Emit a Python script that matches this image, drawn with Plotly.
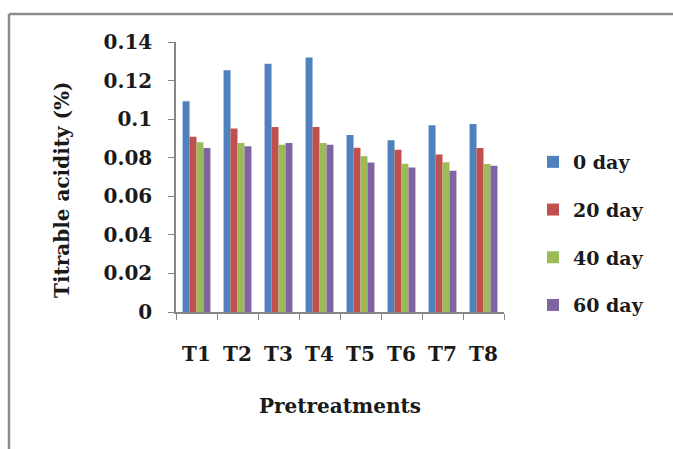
import plotly.graph_objects as go

categories = ["T1", "T2", "T3", "T4", "T5", "T6", "T7", "T8"]
day0 = [0.1093, 0.1253, 0.1287, 0.1320, 0.0918, 0.0890, 0.0968, 0.0975]
day20 = [0.0909, 0.0952, 0.0959, 0.0959, 0.0852, 0.0841, 0.0817, 0.0850]
day40 = [0.0880, 0.0876, 0.0867, 0.0876, 0.0808, 0.0769, 0.0777, 0.0767]
day60 = [0.0850, 0.0859, 0.0876, 0.0867, 0.0775, 0.0749, 0.0732, 0.0758]
series_names = ["0 day", "20 day", "40 day", "60 day"]
colors = ["#4F81BD", "#C0504D", "#9BBB59", "#8064A2"]

W, H = 673, 449
L, R, T, B = 176, 504, 42, 312
FONT = "DejaVu Serif"
TXT = "#1a1a1a"

fig = go.Figure()
for i, (name, vals) in enumerate(zip(series_names, [day0, day20, day40, day60])):
    fig.add_trace(go.Bar(x=categories, y=vals, name=name, marker_color=colors[i],
                         marker_line_width=0, legendgroup=f"g{i}"))

def px(x):
    return (x - L) / (R - L)

def py(y):
    return (B - y) / (B - T)

fig.update_layout(
    width=W, height=H,
    margin=dict(l=L, r=W - R, t=T, b=H - B, pad=0),
    paper_bgcolor="white", plot_bgcolor="white",
    barmode="group", bargap=0.32, bargroupgap=0,
    font=dict(family=FONT, color=TXT),
    showlegend=True,
    legend=dict(x=px(533), y=py(143), xanchor="left", yanchor="top",
                font=dict(size=19, family=FONT, color=TXT, weight="bold"),
                tracegroupgap=20, traceorder="grouped",
                bgcolor="rgba(0,0,0,0)", itemwidth=30),
    xaxis=dict(showline=True, linecolor="#868686", linewidth=1.5,
               ticks="outside", ticklen=6, tickcolor="#868686",
               tickson="boundaries", ticklabelstandoff=23,
               tickfont=dict(size=20, family=FONT, color=TXT, weight="bold"),
               title=dict(text="Pretreatments", standoff=34,
                          font=dict(size=20, family=FONT, color=TXT, weight="bold")),
               showgrid=False),
    yaxis=dict(range=[0, 0.14], dtick=0.02, tickformat="~g",
               showline=True, linecolor="#868686", linewidth=1.5,
               ticks="outside", ticklen=6, tickcolor="#868686",
               ticklabelstandoff=12,
               tickfont=dict(size=20, family=FONT, color=TXT, weight="bold"),
               showgrid=False, zeroline=False),
    annotations=[
        dict(text="Titrable acidity (%)", textangle=-90, xref="paper", yref="paper",
             x=px(62), y=py(190), xanchor="center", yanchor="middle", showarrow=False,
             font=dict(size=20, family=FONT, color=TXT, weight="bold")),
    ],
    shapes=[
        dict(type="line", xref="paper", yref="paper", x0=px(9), x1=px(W + 5), y0=py(14), y1=py(14),
             line=dict(color="#8c8c8c", width=2.5)),
        dict(type="line", xref="paper", yref="paper", x0=px(9), x1=px(9), y0=py(14), y1=py(H + 5),
             line=dict(color="#8c8c8c", width=2.5)),
    ],
)

fig.write_html("out.html")
